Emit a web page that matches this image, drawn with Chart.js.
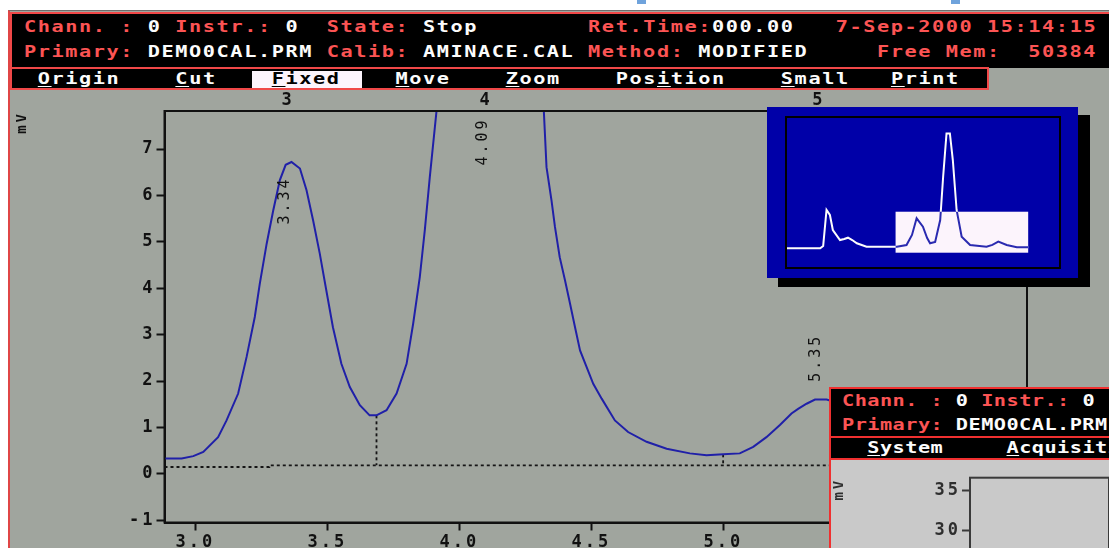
<!DOCTYPE html>
<html>
<head>
<meta charset="utf-8">
<title>Chromatogram - Fixed view</title>
<script src="https://cdn.jsdelivr.net/npm/chart.js@4.4.1/dist/chart.umd.min.js"></script>
<style>
  html, body { margin: 0; padding: 0; background: #fff; }
  #page { position: relative; width: 1109px; height: 548px; overflow: hidden; background: #fff; }
  .box { position: absolute; box-sizing: border-box; }
  .row {
    position: absolute; white-space: pre; color: #fcfcfc;
    font: bold 15px/15px "DejaVu Sans Mono", monospace;
    letter-spacing: 1.16px; transform: scaleX(1.35); transform-origin: 0 50%;
  }
  .row.small { letter-spacing: 0.34px; }
  .r { color: #fc5454; }
  .k { color: #000; }
  u { text-underline-offset: 2px; }
  canvas { position: absolute; left: 0; top: 0; }
</style>
</head>
<body>
<div id="page">
  <!-- app window -->
  <div class="box" style="left:8px;top:10px;width:1101px;height:538px;background:#a0a59e;border-top:1px solid #6e6e6e;border-left:2px solid #e04646;z-index:0"></div>
  <div class="box" style="left:637px;top:0;width:9px;height:4px;background:#6fa3dc"></div>
  <div class="box" style="left:951px;top:0;width:9px;height:4px;background:#6fa3dc"></div>

  <canvas id="main" width="1109" height="548" style="z-index:1"></canvas>

  <!-- status header -->
  <div class="box" style="left:10px;top:12px;width:1099px;height:56px;background:#000;border-top:2px solid #f04848;border-left:2px solid #f04848;z-index:2"></div>
  <div class="row" style="left:24px;top:20px;z-index:2"><span class="r">Chann. :</span> 0 <span class="r">Instr.:</span> 0  <span class="r">State:</span> Stop        <span class="r">Ret.Time:</span>000.00   <span class="r">7-Sep-2000 15:14:15</span></div>
  <div class="row" style="left:24px;top:45px;z-index:2"><span class="r">Primary:</span> DEMO0CAL.PRM <span class="r">Calib:</span> AMINACE.CAL <span class="r">Method:</span> MODIFIED     <span class="r">Free Mem:  50384</span></div>

  <!-- menu bar -->
  <div class="box" style="left:10px;top:67px;width:979px;height:23px;background:#000;border:2px solid #f04848;z-index:2"></div>
  <div class="box" style="left:252px;top:71px;width:110px;height:17px;background:#fcf4fc;z-index:2"></div>
  <div class="row" style="left:24px;top:72px;z-index:2"> <u>O</u>rigin    <u>C</u>ut    <span class="k"><u>F</u>ixed</span>    <u>M</u>ove    <u>Z</u>oom    Pos<u>i</u>tion    <u>S</u>mall   <u>P</u>rint</div>

  <!-- overview inset -->
  <div class="box" style="left:778px;top:115px;width:312px;height:172px;background:#000;z-index:3"></div>
  <div class="box" style="left:767px;top:107px;width:311px;height:171px;background:#0000a8;z-index:3"></div>
  <div class="box" style="left:785px;top:116px;width:276px;height:153px;border:2px solid #000;z-index:3"></div>
  <canvas id="overview" width="272" height="149" style="left:787px;top:118px;z-index:3"></canvas>

  <!-- second window, bottom right -->
  <div class="box" style="left:829px;top:387px;width:280px;height:161px;background:#000;border-top:2px solid #f03030;border-left:2px solid #f03030;z-index:4"></div>
  <div class="row small" style="left:842px;top:394px;z-index:4"><span class="r">Chann. :</span> 0 <span class="r">Instr.:</span> 0</div>
  <div class="row small" style="left:842px;top:418px;z-index:4"><span class="r">Primary:</span> DEMO0CAL.PRM</div>
  <div class="box" style="left:831px;top:436px;width:278px;height:2px;background:#f03030;z-index:4"></div>
  <div class="row small" style="left:842px;top:441px;z-index:4">  <u>S</u>ystem     <u>A</u>cquisition</div>
  <div class="box" style="left:831px;top:458px;width:278px;height:2px;background:#f03030;z-index:4"></div>
  <div class="box" style="left:831px;top:460px;width:278px;height:88px;background:#c9c9c9;overflow:hidden;z-index:4">
    <canvas id="second" width="278" height="140"></canvas>
  </div>
</div>

<script>
// main view: retention time (min) vs signal (mV)
const time = [2.881, 2.948, 2.992, 3.03, 3.086, 3.118, 3.162, 3.194, 3.225, 3.244,
  3.27, 3.295, 3.32, 3.342, 3.364, 3.396, 3.421, 3.446, 3.471, 3.496,
  3.521, 3.553, 3.585, 3.623, 3.66, 3.686, 3.724, 3.762, 3.8, 3.825,
  3.85, 3.869, 3.888, 3.913, 3.95, 4.0, 4.05, 4.09, 4.13, 4.18,
  4.23, 4.28, 4.32, 4.33, 4.349, 4.362, 4.38, 4.4, 4.419, 4.438,
  4.457, 4.482, 4.507, 4.539, 4.589, 4.639, 4.709, 4.785, 4.873, 4.936,
  4.999, 5.062, 5.113, 5.163, 5.214, 5.258, 5.283, 5.315, 5.347, 5.391,
  5.45, 5.55, 5.7, 5.9, 6.15];
const signal = [0.33, 0.33, 0.38, 0.47, 0.79, 1.15, 1.73, 2.52, 3.38, 4.10,
  4.96, 5.68, 6.33, 6.66, 6.72, 6.58, 6.11, 5.46, 4.75, 3.95,
  3.16, 2.37, 1.87, 1.48, 1.26, 1.26, 1.37, 1.73, 2.37, 3.24,
  4.24, 5.25, 6.40, 7.8, 11, 17, 21, 22.5, 21, 17,
  12.5, 9.0, 7.8, 6.61, 5.89, 5.32, 4.67, 4.17, 3.67, 3.16,
  2.66, 2.30, 1.94, 1.62, 1.15, 0.90, 0.69, 0.54, 0.44, 0.40,
  0.42, 0.44, 0.58, 0.79, 1.05, 1.30, 1.40, 1.51, 1.60, 1.60,
  1.5, 1.15, 0.7, 0.45, 0.38];

// integration baseline and drop lines
const baseTime = [2.883, 3.28, 3.28, 6.15];
const baseSignal = [0.146, 0.146, 0.183, 0.183];
const dropTime = [3.686, 4.999];
const dropTop = [1.26, 0.42];
const dropBottom = [0.183, 0.183];

// peaks
const peakNumbers = ['3', '4', '5'];
const peakTimes = [3.34, 4.09, 5.35];
const peakLabelLevel = [5.86, 7.13, 2.47];

const xTicks = [3.0, 3.5, 4.0, 4.5, 5.0, 5.5, 6.0];
const yTicks = [-1, 0, 1, 2, 3, 4, 5, 6, 7];

// overview of the whole run
const miniTime = [0.24, 1.05, 1.12, 1.20, 1.28, 1.35, 1.52, 1.62, 1.71, 1.81,
  1.92, 2.15, 2.54, 2.87, 3.10, 3.23, 3.34, 3.49, 3.59, 3.66,
  3.78, 3.90, 3.97, 4.05, 4.13, 4.20, 4.29, 4.41, 4.61, 5.00,
  5.14, 5.28, 5.48, 5.72, 5.99];
const miniSignal = [0.12, 0.12, 0.64, 8.75, 7.62, 4.24, 1.99, 2.21, 2.51, 1.99,
  1.25, 0.48, 0.48, 0.48, 0.86, 3.12, 6.88, 4.98, 2.44, 1.25,
  1.54, 6.49, 16.25, 26.0, 26.0, 20.0, 8.75, 2.73, 0.86, 0.48,
  0.9, 1.61, 0.86, 0.35, 0.35];
const zoomBoxTime = [2.84, 5.99];
const zoomBoxSignal = [-0.87, 8.36];

// second window axis
const secondTicks = [25, 30, 35];

const pts = (xs, ys) => xs.map((x, i) => ({ x: x, y: ys[i] }));
const dosFont = 'DejaVu Sans Mono';

const spacing = {
  id: 'spacing',
  beforeLayout(chart) { chart.ctx.letterSpacing = '3px'; },
  beforeDraw(chart) { chart.ctx.letterSpacing = '3px'; }
};

const frame = {
  id: 'frame',
  afterDraw(chart, args, opts) {
    const { ctx, chartArea: a } = chart;
    ctx.save();
    ctx.strokeStyle = opts.color || '#111';
    ctx.lineWidth = 2;
    ctx.strokeRect(a.left, a.top, a.right - a.left, a.bottom - a.top);
    ctx.restore();
  }
};

const peakLabels = {
  id: 'peakLabels',
  afterDatasetsDraw(chart) {
    const { ctx, chartArea } = chart;
    const x = chart.scales.x, y = chart.scales.y;
    ctx.save();
    ctx.letterSpacing = '3px';
    ctx.fillStyle = '#111';
    ctx.textAlign = 'center';
    ctx.textBaseline = 'middle';
    ctx.font = 'bold 17px "' + dosFont + '"';
    peakNumbers.forEach((n, i) => {
      ctx.fillText(n, x.getPixelForValue(peakTimes[i]) + 3, chartArea.top - 10);
    });
    ctx.font = '15px "' + dosFont + '"';
    peakTimes.forEach((t, i) => {
      ctx.save();
      ctx.translate(x.getPixelForValue(t), y.getPixelForValue(peakLabelLevel[i]));
      ctx.rotate(-Math.PI / 2);
      ctx.fillText(t.toFixed(2), 1.5, 0);
      ctx.restore();
    });
    ctx.restore();
  }
};

const dotted = { borderColor: '#151515', borderWidth: 1.8, borderDash: [3, 3], pointRadius: 0, tension: 0 };

const mainDatasets = [
  { data: pts(time, signal), borderColor: '#2020a8', borderWidth: 2, pointRadius: 0, tension: 0 },
  Object.assign({ data: pts(baseTime, baseSignal) }, dotted)
];
dropTime.forEach((t, i) => {
  mainDatasets.push(Object.assign({ data: [{ x: t, y: dropTop[i] }, { x: t, y: dropBottom[i] }] }, dotted));
});

const tickFont = { family: dosFont, weight: 'bold', size: 17 };

new Chart(document.getElementById('main'), {
  type: 'line',
  data: { datasets: mainDatasets },
  options: {
    responsive: false,
    animation: false,
    devicePixelRatio: 1,
    layout: { padding: { left: 0, top: 111, right: 82, bottom: 0 } },
    plugins: { legend: { display: false }, tooltip: { enabled: false } },
    scales: {
      x: {
        type: 'linear',
        min: 2.883,
        max: 6.15,
        afterBuildTicks: s => { s.ticks = xTicks.map(v => ({ value: v })); },
        afterFit: s => { s.height = 25.5; },
        ticks: {
          color: '#111',
          font: tickFont,
          padding: 2,
          autoSkip: false,
          maxRotation: 0,
          callback: v => v.toFixed(1)
        },
        grid: { drawOnChartArea: false, tickLength: 8, color: '#111', tickWidth: 2 },
        border: { color: '#111', width: 2 }
      },
      y: {
        min: -1.05,
        max: 7.82,
        afterBuildTicks: s => { s.ticks = yTicks.map(v => ({ value: v })); },
        afterFit: s => { s.width = 164.5; },
        ticks: {
          color: '#111',
          font: tickFont,
          padding: 1,
          callback: v => String(v)
        },
        grid: { drawOnChartArea: false, tickLength: 8, color: '#111', tickWidth: 2 },
        border: { color: '#111', width: 2 },
        title: {
          display: true,
          text: 'mV',
          align: 'end',
          color: '#111',
          font: { family: dosFont, weight: 'bold', size: 14 },
          padding: { top: 14, bottom: 0 }
        }
      }
    }
  },
  plugins: [spacing, frame, peakLabels]
});

// overview: white line on blue, blue line inside the zoom box
const zoomBox = {
  id: 'zoomBox',
  rect(chart) {
    const x = chart.scales.x, y = chart.scales.y;
    const l = x.getPixelForValue(zoomBoxTime[0]), r = x.getPixelForValue(zoomBoxTime[1]);
    const t = y.getPixelForValue(zoomBoxSignal[1]), b = y.getPixelForValue(zoomBoxSignal[0]);
    return [l, t, r - l, b - t];
  },
  beforeDatasetsDraw(chart) {
    const ctx = chart.ctx;
    ctx.save();
    ctx.fillStyle = '#fcf4fc';
    ctx.fillRect(...this.rect(chart));
    ctx.restore();
  },
  beforeDatasetDraw(chart, args) {
    const ctx = chart.ctx, a = chart.chartArea;
    ctx.save();
    ctx.beginPath();
    if (args.index === 0) {
      ctx.rect(a.left, a.top, a.right - a.left, a.bottom - a.top);
      ctx.rect(...this.rect(chart));
      ctx.clip('evenodd');
    } else {
      ctx.rect(...this.rect(chart));
      ctx.clip();
    }
  },
  afterDatasetDraw(chart) {
    chart.ctx.restore();
  }
};

new Chart(document.getElementById('overview'), {
  type: 'line',
  data: {
    datasets: [
      { data: pts(miniTime, miniSignal), borderColor: '#fcfcfc', borderWidth: 2, pointRadius: 0, tension: 0 },
      { data: pts(miniTime, miniSignal), borderColor: '#2a2ab0', borderWidth: 2, pointRadius: 0, tension: 0 }
    ]
  },
  options: {
    responsive: false,
    animation: false,
    devicePixelRatio: 1,
    layout: { padding: 0 },
    plugins: { legend: { display: false }, tooltip: { enabled: false } },
    scales: {
      x: { type: 'linear', min: 0.261, max: 6.722, display: false },
      y: { min: -4.09, max: 29.47, display: false }
    }
  },
  plugins: [zoomBox]
});

// second window: empty plot, only its y axis is visible
new Chart(document.getElementById('second'), {
  type: 'line',
  data: { datasets: [{ data: [] }] },
  options: {
    responsive: false,
    animation: false,
    devicePixelRatio: 1,
    layout: { padding: { left: 0, top: 17.7, right: 0, bottom: 0 } },
    plugins: { legend: { display: false }, tooltip: { enabled: false }, frame: { color: '#3a3a3a' } },
    scales: {
      x: { type: 'linear', min: 0, max: 1, display: false },
      y: {
        min: 22.8,
        max: 36.6,
        afterBuildTicks: s => { s.ticks = secondTicks.map(v => ({ value: v })); },
        afterFit: s => { s.width = 139; },
        ticks: {
          color: '#2e2e2e',
          font: tickFont,
          padding: 1,
          callback: v => String(v)
        },
        grid: { drawOnChartArea: false, tickLength: 8, color: '#3a3a3a', tickWidth: 2 },
        border: { color: '#3a3a3a', width: 2 },
        title: {
          display: true,
          text: 'mV',
          align: 'end',
          color: '#2e2e2e',
          font: { family: dosFont, weight: 'bold', size: 14 },
          padding: { top: 0, bottom: 0 }
        }
      }
    }
  },
  plugins: [spacing, frame]
});
</script>
</body>
</html>
